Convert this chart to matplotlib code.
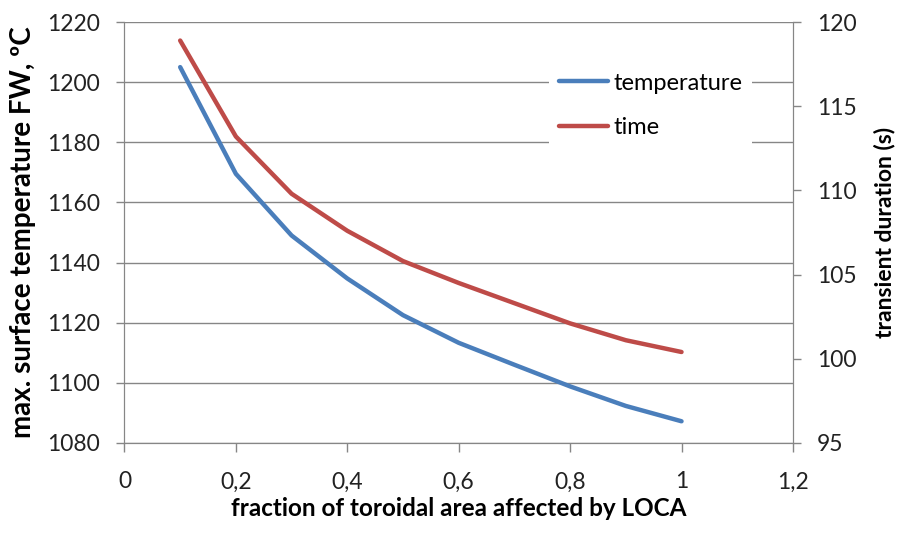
import matplotlib.pyplot as plt
from matplotlib.ticker import FuncFormatter

fraction = [0.1, 0.2, 0.3, 0.4, 0.5, 0.6, 0.7, 0.8, 0.9, 1.0]
temperature = [1205, 1169.5, 1149, 1134.7, 1122.5, 1113.3, 1106, 1098.8, 1092.3, 1087.2]
duration = [118.9, 113.2, 109.8, 107.6, 105.8, 104.5, 103.3, 102.1, 101.1, 100.4]

plt.rcParams['font.family'] = ['Lato', 'DejaVu Sans']
grey = '#868686'

fig = plt.figure(figsize=(8.98, 5.33), dpi=100)
ax = fig.add_axes([0.1386, 0.169, 0.7444, 0.7897])
ax2 = ax.twinx()

l1, = ax.plot(fraction, temperature, color='#4a7ebb', lw=3.2, solid_capstyle='round', label='temperature')
l2, = ax2.plot(fraction, duration, color='#be4b48', lw=3.2, solid_capstyle='round', label='time')

ax.set_xlim(0, 1.2)
ax.set_ylim(1080, 1220)
ax2.set_ylim(95, 120)
ax.set_xticks([0, 0.2, 0.4, 0.6, 0.8, 1.0, 1.2])
ax.set_yticks(range(1080, 1221, 20))
ax2.set_yticks(range(95, 121, 5))
ax.xaxis.set_major_formatter(FuncFormatter(lambda v, p: ('%g' % round(v, 1)).replace('.', ',')))

ax.grid(axis='y', color=grey, lw=1)
ax.set_axisbelow(True)
for a in (ax, ax2):
    a.spines['top'].set_visible(False)
    for s in ('left', 'right', 'bottom'):
        a.spines[s].set_color(grey)
    a.tick_params(colors=grey, labelcolor='#222222', labelsize=16.5, length=5.5, width=1, pad=12)
ax.tick_params(axis='x', length=6.5, pad=14)

ax.set_xlabel('fraction of toroidal area affected by LOCA', fontsize=17.5, fontweight='bold', labelpad=3)
ax.set_ylabel('max. surface temperature FW, ºC', fontsize=20, fontweight='bold', labelpad=8)
ax2.set_ylabel('transient duration (s)', fontsize=16.5, fontweight='bold', labelpad=12)

leg = ax2.legend(handles=[l1, l2], loc='upper left', bbox_to_anchor=(0.618, 0.93),
                 frameon=True, fontsize=17, handlelength=2.1, handletextpad=0.2,
                 labelspacing=1.0, borderpad=0.4)
leg.get_frame().set_edgecolor('none')
leg.get_frame().set_facecolor('white')
leg.get_frame().set_alpha(1)

fig.savefig('out.png', dpi=100)
